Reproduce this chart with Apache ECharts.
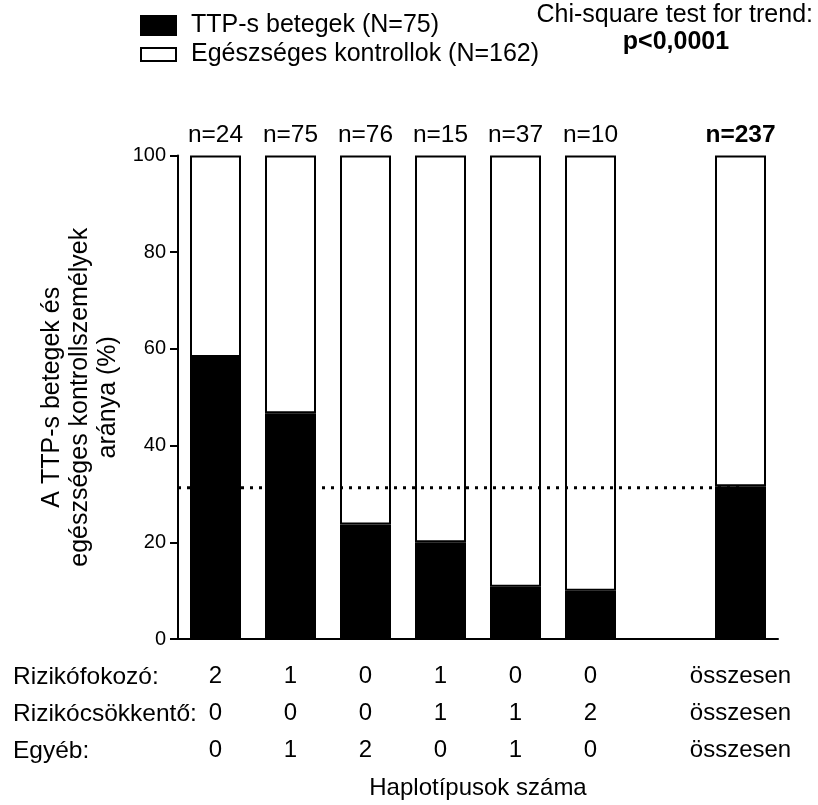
<!DOCTYPE html>
<html>
<head>
<meta charset="utf-8">
<script src="https://cdn.jsdelivr.net/npm/echarts@6/dist/echarts.min.js"></script>
<style>html,body{margin:0;padding:0;background:#fff}#c{width:818px;height:805px}</style>
</head>
<body>
<div id="c"></div>
<script>
var categories = ['g1','g2','g3','g4','g5','g6','gap','total'];
var riskUp   = ['2','1','0','1','0','0','','összesen'];
var riskDown = ['0','0','0','1','1','2','','összesen'];
var other    = ['0','1','2','0','1','0','','összesen'];
var nCounts  = [24, 75, 76, 15, 37, 10, null, 237];
var ttpPct   = [58.3, 46.7, 23.7, 20.0, 10.8, 10.0, null, 31.6];
var ctrlPct  = [41.7, 53.3, 76.3, 80.0, 89.2, 90.0, null, 68.4];
var trendValue = 31.3;
var yTicks = [0, 20, 40, 60, 80, 100];
var rowNames = ['Rizikófokozó:', 'Rizikócsökkentő:', 'Egyéb:'];
var seriesNames = ['TTP-s betegek (N=75)', 'Egészséges kontrollok (N=162)'];

var FONT = '"Liberation Sans", Arial, sans-serif';
var chart = echarts.init(document.getElementById('c'));

var ctrlData = ctrlPct.map(function (v, i) {
  if (v === null) return null;
  var last = i === categories.length - 1;
  return { value: v, label: { fontWeight: last ? 'bold' : 'normal' } };
});

var option = {
  backgroundColor: '#fff',
  animation: false,
  textStyle: { fontFamily: FONT, color: '#000' },
  legend: [
    { data: [seriesNames[0]], left: 140, top: 13, padding: 0, itemWidth: 35, itemHeight: 19,
      icon: 'rect', selectedMode: false,
      textStyle: { fontFamily: FONT, fontSize: 25, color: '#000', padding: [0,0,0,10], lineHeight: 25 } },
    { data: [seriesNames[1]], left: 140, top: 42, padding: 0, itemWidth: 35, itemHeight: 13,
      icon: 'rect', selectedMode: false,
      textStyle: { fontFamily: FONT, fontSize: 25, color: '#000', padding: [0,0,0,10], lineHeight: 25 } }
  ],
  grid: { left: 178, right: 40, top: 155.5, bottom: 164.5 },
  xAxis: [{
    type: 'category',
    data: categories,
    axisLine: { lineStyle: { color: '#000', width: 2 } },
    axisTick: { alignWithLabel: true, length: 8, lineStyle: { color: '#000', width: 2 },
      interval: function (i) { return riskUp[i] !== ''; } },
    axisLabel: {
      interval: 0, margin: 19, fontFamily: FONT, fontSize: 24, lineHeight: 37, color: '#000',
      formatter: function (v, i) { return riskUp[i] + '\n' + riskDown[i] + '\n' + other[i]; }
    },
    name: 'Haplotípusok száma',
    nameLocation: 'middle',
    nameGap: 137,
    nameTextStyle: { fontFamily: FONT, fontSize: 24, color: '#000' }
  }, {
    type: 'value', min: 0, max: categories.length, show: false
  }],
  yAxis: {
    type: 'value', min: yTicks[0], max: yTicks[yTicks.length - 1], interval: yTicks[1] - yTicks[0],
    axisLine: { show: true, lineStyle: { color: '#000', width: 2 } },
    axisTick: { show: true, length: 8, lineStyle: { color: '#000', width: 2 } },
    axisLabel: { margin: 12, fontFamily: FONT, fontSize: 20, color: '#000' },
    splitLine: { show: false },
    name: 'A TTP-s betegek és\negészséges kontrollszemélyek\naránya (%)',
    nameLocation: 'middle',
    nameGap: 56,
    nameTextStyle: { fontFamily: FONT, fontSize: 25, lineHeight: 28, color: '#000', align: 'center' }
  },
  series: [
    {
      name: seriesNames[0], type: 'bar', stack: 's', barWidth: 51, data: ttpPct,
      itemStyle: { color: '#000', borderColor: '#000', borderWidth: 2 }, z: 2
    },
    {
      name: seriesNames[1], type: 'bar', stack: 's', barWidth: 51, data: ctrlData,
      itemStyle: { color: '#fff', borderColor: '#000', borderWidth: 2 }, z: 2,
      label: {
        show: true, position: 'top', distance: 8, fontFamily: FONT, fontSize: 24.5, color: '#000',
        formatter: function (p) { return 'n=' + nCounts[p.dataIndex]; }
      }
    },
    {
      type: 'line', xAxisIndex: 1, silent: true, symbol: 'none',
      data: [[0, trendValue], [categories.length - 0.5, trendValue]],
      lineStyle: { color: '#000', width: 3, type: [3, 6] }, z: 5
    }
  ],
  graphic: [
    { type: 'text', right: 5, top: 3, style: { text: 'Chi-square test for trend:', font: '25px ' + FONT, fill: '#000' } },
    { type: 'text', x: 676, y: 42, style: { text: 'p<0,0001', font: 'bold 25px ' + FONT, fill: '#000', textAlign: 'center', textVerticalAlign: 'middle' } },
    { type: 'text', x: 13, y: 677, style: { text: rowNames[0], font: '24.5px ' + FONT, fill: '#000', textVerticalAlign: 'middle' } },
    { type: 'text', x: 13, y: 714, style: { text: rowNames[1], font: '24.5px ' + FONT, fill: '#000', textVerticalAlign: 'middle' } },
    { type: 'text', x: 13, y: 751, style: { text: rowNames[2], font: '24.5px ' + FONT, fill: '#000', textVerticalAlign: 'middle' } }
  ]
};
chart.setOption(option);
</script>
</body>
</html>
